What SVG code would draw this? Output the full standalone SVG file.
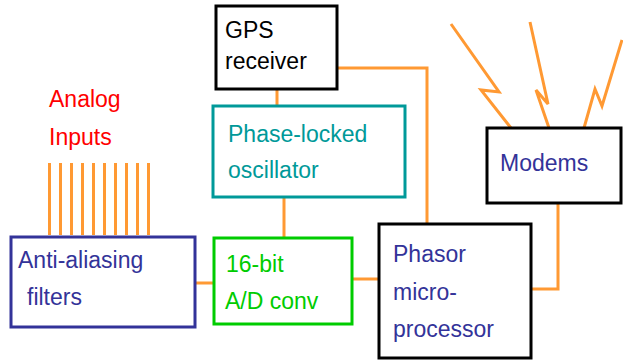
<svg xmlns="http://www.w3.org/2000/svg" width="623" height="360" viewBox="0 0 623 360">
<style>
text{font-family:"Liberation Sans",Arial,sans-serif;font-size:23px}
.box{fill:#fff;stroke-width:3}
.k{stroke:#000}
.n{stroke:#333399}
.t{stroke:#009999}
.g{stroke:#00cc00}
.w{fill:none;stroke:#ff9933;stroke-width:3}
</style>
<rect width="623" height="360" fill="#fff"/>
<g id="connectors">
<path class="w" d="M337,68 H427 V224"/>
<path class="w" d="M277,89 V106"/>
<path class="w" d="M284,197 V238"/>
<path class="w" d="M195,283 H214"/>
<path class="w" d="M352,279 H379"/>
<path class="w" d="M531,289 H558 V203"/>
<path class="w" d="M451,24 L499,92 L481,90 L511,128"/>
<path class="w" d="M530,22 L548,104 L536,90 L549,128"/>
<path class="w" d="M622,40 L602,106 L595,89 L584,128"/>
<path class="w" d="M49.5,163V235M60.5,163V235M71.5,163V235M82.5,163V235M93.5,163V235M104.5,163V235M115.5,163V235M126.5,163V235M137.5,163V235M148.5,163V235"/>
</g>
<g id="analog-inputs">
<text x="49" y="107" fill="#ff0000">Analog</text>
<text x="49" y="145" fill="#ff0000">Inputs</text>
</g>
<g id="gps">
<rect class="box k" x="216" y="6" width="121" height="83"/>
<text x="225" y="38" fill="#000">GPS</text>
<text x="225" y="69" fill="#000">receiver</text>
</g>
<g id="plo">
<rect class="box t" x="213" y="106" width="192" height="91"/>
<text x="228" y="142" fill="#009999">Phase-locked</text>
<text x="228" y="178" fill="#009999">oscillator</text>
</g>
<g id="adc">
<rect class="box g" x="214" y="238" width="138" height="86"/>
<text x="226" y="272" fill="#00cc00">16-bit</text>
<text x="225" y="309" fill="#00cc00">A/D conv</text>
</g>
<g id="filters">
<rect class="box n" x="11" y="237" width="184" height="90"/>
<text x="18" y="268" fill="#333399">Anti-aliasing</text>
<text x="27" y="305" fill="#333399">filters</text>
</g>
<g id="phasor">
<rect class="box k" x="379" y="224" width="152" height="134"/>
<text x="393" y="262" fill="#333399">Phasor</text>
<text x="393" y="300" fill="#333399">micro-</text>
<text x="393" y="337" fill="#333399">processor</text>
</g>
<g id="modems">
<rect class="box k" x="487" y="128" width="134" height="75"/>
<text x="500" y="171" fill="#333399">Modems</text>
</g>
</svg>
